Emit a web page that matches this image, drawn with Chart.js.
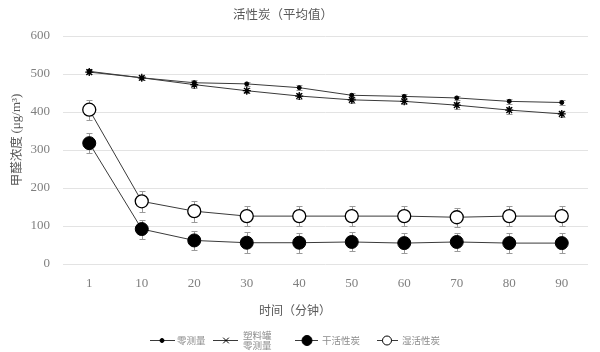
<!DOCTYPE html>
<html><head><meta charset="utf-8">
<script src="https://cdn.jsdelivr.net/npm/chart.js@4/dist/chart.umd.min.js"></script>
<style>html,body{margin:0;padding:0;background:#fff}#wrap{width:600px;height:352px;position:relative}</style>
</head><body><div id="wrap"><canvas id="c" width="600" height="352"></canvas></div>
<script>
const categories = ['1','10','20','30','40','50','60','70','80','90'];
const zeroValues    = [507,490,477,474,464,444,441,437,428,425];
const zeroErrors    = [6,6,6,6,6,6,7,6,6,7];
const canValues     = [505,490,472,456,442,432,428,418,405,395];
const canErrors     = [6,6,8,7,8,8,8,9,9,8];
const dryValues     = [318,92,62,56,56,58,55,58,55,55];
const dryErrors     = [27,25,25,27,26,25,26,24,26,26];
const wetValues     = [406,165,139,126,126,126,126,123,126,126];
const wetErrors     = [26,27,28,26,26,27,26,25,26,26];
const seriesNames   = ['零测量','塑料罐\n零测量','干活性炭','湿活性炭'];
const yTicks        = [0,100,200,300,400,500,600];
const titleText     = '活性炭（平均值）';
const xTitleText    = '时间（分钟）';
const yTitleCJK     = '甲醛浓度 ';
const yTitleUnit    = '(μg/m³)';

const errs = [zeroErrors, canErrors, dryErrors, wetErrors];
const CJK = '"Noto Sans CJK SC", "Noto Sans", sans-serif';
const SERIF = '"Liberation Serif", "DejaVu Serif", serif';
const LINE = '#3a3a3a';

const errorBars = {
  id: 'errorBars',
  beforeDatasetsDraw(chart) {
    const ctx = chart.ctx, y = chart.scales.y;
    ctx.save();
    ctx.strokeStyle = '#9a9a9a';
    ctx.lineWidth = 1;
    chart.data.datasets.forEach((ds, i) => {
      const meta = chart.getDatasetMeta(i);
      meta.data.forEach((pt, j) => {
        const v = ds.data[j], e = errs[i][j];
        const y1 = Math.round(y.getPixelForValue(v + e)) + 0.5;
        const y2 = Math.round(y.getPixelForValue(v - e)) + 0.5;
        const x = Math.round(pt.x) + 0.5;
        ctx.beginPath();
        ctx.moveTo(x, y1); ctx.lineTo(x, y2);
        ctx.moveTo(x - 3, y1); ctx.lineTo(x + 3, y1);
        ctx.moveTo(x - 3, y2); ctx.lineTo(x + 3, y2);
        ctx.stroke();
      });
    });
    ctx.restore();
  }
};

const texts = {
  id: 'texts',
  afterDraw(chart) {
    const ctx = chart.ctx;
    ctx.save();
    ctx.fillStyle = '#595959';
    ctx.textBaseline = 'middle';
    ctx.textAlign = 'center';
    ctx.font = '12.5px ' + CJK;
    ctx.fillText(titleText, 283, 14);
    ctx.font = '12px ' + CJK;
    ctx.fillText(xTitleText, 295, 310);
    // y title rotated
    ctx.save();
    ctx.translate(16, 140);
    ctx.rotate(-Math.PI / 2);
    ctx.font = '12.5px ' + CJK;
    const w1 = ctx.measureText(yTitleCJK).width;
    ctx.font = '13px ' + SERIF;
    const w2 = ctx.measureText(yTitleUnit).width;
    const start = -(w1 + w2) / 2;
    ctx.textAlign = 'left';
    ctx.font = '12.5px ' + CJK;
    ctx.fillText(yTitleCJK, start, 0);
    ctx.font = '13px ' + SERIF;
    ctx.fillText(yTitleUnit, start + w1, 1);
    ctx.restore();

    // legend
    const ly = 340;
    const items = [
      {x1:150,x2:175,mx:162,tx:177,style:'circle',r:2,fill:'#000',bw:1},
      {x1:213,x2:238,mx:226,tx:243,style:'crossRot',r:4,fill:'#000',bw:1.5},
      {x1:295,x2:318,mx:307,tx:322,style:'circle',r:5,fill:'#000',bw:1},
      {x1:377,x2:398,mx:387,tx:402,style:'circle',r:4.5,fill:'#fff',bw:1.3}
    ];
    items.forEach((it, i) => {
      ctx.strokeStyle = LINE; ctx.lineWidth = 1;
      ctx.beginPath(); ctx.moveTo(it.x1, ly + 0.5); ctx.lineTo(it.x2, ly + 0.5); ctx.stroke();
      ctx.fillStyle = it.fill; ctx.strokeStyle = '#000';
      Chart.helpers.drawPoint(ctx, {pointStyle: it.style, radius: it.r, rotation: 0, borderWidth: it.bw}, it.mx, ly + 0.5);
      ctx.fillStyle = '#8c8c8c';
      ctx.font = '9.5px ' + CJK;
      ctx.textAlign = 'left';
      const lines = seriesNames[i].split('\n');
      if (lines.length === 1) ctx.fillText(lines[0], it.tx, ly);
      else { ctx.fillText(lines[0], it.tx, ly - 5); ctx.fillText(lines[1], it.tx, ly + 5); }
    });
    ctx.restore();
  }
};

function ds(label, data, style, r, bg, bw) {
  return {
    label, data, borderColor: LINE, borderWidth: 1, tension: 0,
    pointStyle: style, pointRadius: r, pointHoverRadius: r,
    pointBackgroundColor: bg, pointBorderColor: '#000', pointBorderWidth: bw
  };
}

new Chart(document.getElementById('c'), {
  type: 'line',
  data: {
    labels: categories,
    datasets: [
      ds(seriesNames[0], zeroValues, 'circle', 2, '#000', 1),
      ds(seriesNames[1], canValues, 'star', 4, '#000', 1.3),
      ds(seriesNames[2], dryValues, 'circle', 6.5, '#000', 1),
      ds(seriesNames[3], wetValues, 'circle', 6.5, '#fff', 1.3)
    ]
  },
  options: {
    responsive: false, animation: false, devicePixelRatio: 1,
    layout: { padding: { top: 36, right: 12, left: 0, bottom: 0 } },
    plugins: { legend: { display: false }, title: { display: false }, tooltip: { enabled: false } },
    scales: {
      x: {
        type: 'category', offset: true,
        grid: { display: false, drawTicks: false },
        border: { display: false },
        ticks: { color: '#7f7f7f', font: { family: SERIF, size: 13 }, padding: 12, maxRotation: 0, autoSkip: false },
        afterFit(s) { s.height = 88; }
      },
      y: {
        min: 0, max: 600,
        afterBuildTicks(s) { s.ticks = yTicks.map(v => ({ value: v })); },
        grid: { color: '#e3e3e3', lineWidth: 1, drawTicks: false },
        border: { display: false },
        ticks: { color: '#7f7f7f', font: { family: SERIF, size: 13 }, padding: 13 },
        afterFit(s) { s.width = 63; }
      }
    }
  },
  plugins: [errorBars, texts]
});
</script></body></html>
